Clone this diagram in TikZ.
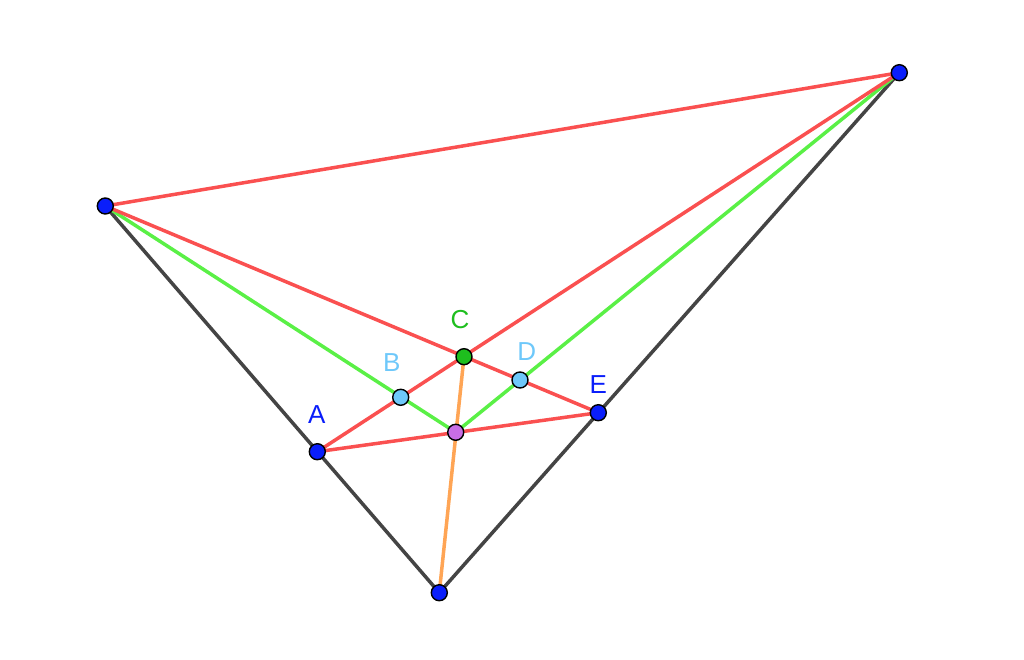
\documentclass[tikz,border=0pt]{standalone}
\usepackage{fontspec}
\setmainfont{Liberation Sans}
\definecolor{lred}{RGB}{250,80,80}
\definecolor{lgreen}{RGB}{90,240,70}
\definecolor{lgray}{RGB}{68,68,68}
\definecolor{lorange}{RGB}{255,165,85}
\definecolor{lblue}{RGB}{110,200,250}
\definecolor{pblue}{RGB}{10,30,250}
\definecolor{pgreen}{RGB}{30,190,30}
\definecolor{ppurple}{RGB}{200,110,230}
\tikzset{
  seg/.style={line width=3.5pt, line cap=round},
  pt/.style={circle, draw=black, line width=1.4pt, inner sep=0pt, minimum size=16pt, fill=#1},
  lab/.style={font=\fontsize{26}{26}\selectfont, text=#1}
}
\begin{document}
\begin{tikzpicture}[x=1pt,y=-1pt]
\useasboundingbox (0,0) rectangle (1024,660);
\coordinate (P) at (105.3,206);
\coordinate (Q) at (899.3,72.7);
\coordinate (R) at (439.3,592.7);
\coordinate (A) at (317.3,451.7);
\coordinate (B) at (400.7,397.3);
\coordinate (C) at (464,356.7);
\coordinate (D) at (520,380);
\coordinate (E) at (598.3,412.7);
\coordinate (M) at (455.7,432.3);
% black sides
\draw[seg, lgray] (P) -- (R) -- (Q);
% green
\draw[seg, lgreen] (P) -- (M) -- (Q);
% orange
\draw[seg, lorange] (C) -- (R);
% red
\draw[seg, lred] (P) -- (Q);
\draw[seg, lred] (P) -- (E);
\draw[seg, lred] (Q) -- (A);
\draw[seg, lred] (A) -- (E);
% points
\node[pt=pblue] (nP) at (P) {};
\node[pt=pblue] (nQ) at (Q) {};
\node[pt=pblue] (nR) at (R) {};
\node[pt=pblue] (nA) at (A) {};
\node[pt=pblue] (nE) at (E) {};
\node[pt=lblue] (nB) at (B) {};
\node[pt=lblue] (nD) at (D) {};
\node[pt=pgreen] (nC) at (C) {};
\node[pt=ppurple] (nM) at (M) {};
% labels
\node[lab=pblue] (tA) at (316.7,415) {A};
\node[lab=lblue] (tB) at (391.7,363) {B};
\node[lab=pgreen] (tC) at (460,320) {C};
\node[lab=lblue] (tD) at (526.7,351.7) {D};
\node[lab=pblue] (tE) at (598.3,385) {E};
\end{tikzpicture}
\end{document}
